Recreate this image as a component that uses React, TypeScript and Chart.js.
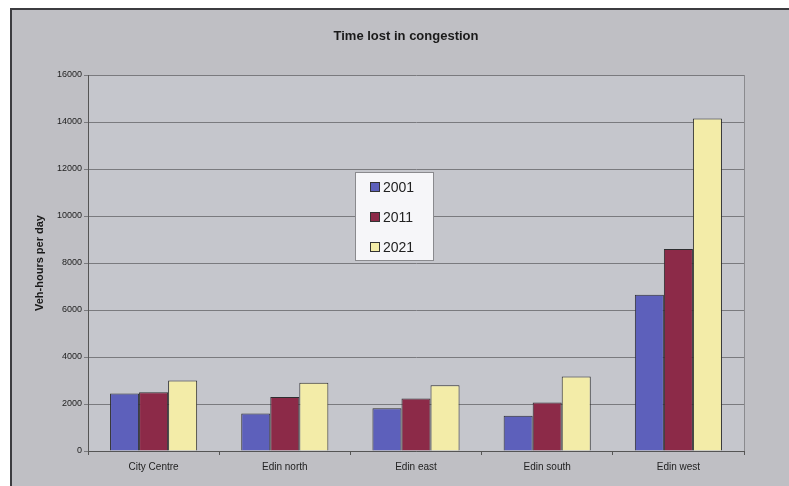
import React, { useEffect, useRef } from "react";
import { Chart, registerables } from "chart.js";

Chart.register(...registerables);

const categories = ["City Centre", "Edin north", "Edin east", "Edin south", "Edin west"];
const seriesLabels = ["2001", "2011", "2021"];
const values2001 = [2450, 1600, 1820, 1500, 6650];
const values2011 = [2500, 2300, 2230, 2060, 8600];
const values2021 = [3000, 2900, 2800, 3170, 14150];
const seriesColors = ["#5d60bb", "#8c2a48", "#f3eca8"];
const chartTitle = "Time lost in congestion";
const yTitle = "Veh-hours per day";
const FONT = "'Liberation Sans', Arial, sans-serif";

const framePlugin = {
  id: "frame",
  beforeDraw(chart: any) {
    const { ctx, width, height, chartArea } = chart;
    ctx.save();
    ctx.fillStyle = "#ffffff";
    ctx.fillRect(0, 0, width, height);
    ctx.fillStyle = "#bfbfc4";
    ctx.fillRect(11, 9, width, height);
    ctx.strokeStyle = "#3c3c40";
    ctx.lineWidth = 2;
    ctx.beginPath();
    ctx.moveTo(11, height + 2);
    ctx.lineTo(11, 9);
    ctx.lineTo(width + 2, 9);
    ctx.stroke();
    ctx.fillStyle = "#c5c6cc";
    ctx.fillRect(chartArea.left, chartArea.top, chartArea.right - chartArea.left, chartArea.bottom - chartArea.top);
    ctx.strokeStyle = "#8a8a8e";
    ctx.lineWidth = 1;
    ctx.beginPath();
    ctx.moveTo(chartArea.right + 0.5, chartArea.bottom);
    ctx.lineTo(chartArea.right + 0.5, chartArea.top);
    ctx.stroke();
    ctx.fillStyle = "#1a1a1a";
    ctx.font = `bold 13px ${FONT}`;
    ctx.textAlign = "center";
    ctx.textBaseline = "middle";
    ctx.fillText(chartTitle, 406, 36);
    ctx.restore();
  },
};

const floatLegendPlugin = {
  id: "floatLegend",
  afterDraw(chart: any) {
    const { ctx } = chart;
    const x = 355, y = 172, w = 78, h = 88;
    ctx.save();
    ctx.fillStyle = "#f6f6f9";
    ctx.fillRect(x, y, w, h);
    ctx.strokeStyle = "#8a8a8e";
    ctx.lineWidth = 1;
    ctx.strokeRect(x + 0.5, y + 0.5, w, h);
    ctx.font = `14px ${FONT}`;
    ctx.textBaseline = "middle";
    chart.data.datasets.forEach((ds: any, i: number) => {
      const cy = 187 + i * 30;
      ctx.fillStyle = ds.backgroundColor;
      ctx.fillRect(370, cy - 5, 10, 10);
      ctx.strokeStyle = "#333";
      ctx.strokeRect(370.5, cy - 4.5, 9, 9);
      ctx.fillStyle = "#222";
      ctx.fillText(ds.label, 383, cy + 1);
    });
    ctx.restore();
  },
};

export default function App() {
  const ref = useRef<HTMLCanvasElement>(null);
  useEffect(() => {
    if (!ref.current) return;
    const datasets = [values2001, values2011, values2021].map((v, i) => ({
      label: seriesLabels[i],
      data: v,
      backgroundColor: seriesColors[i],
      borderColor: "#2e2e30",
      borderWidth: 1,
      categoryPercentage: 0.664,
      barPercentage: 1,
    }));
    const chart = new Chart(ref.current, {
      type: "bar",
      data: { labels: categories, datasets },
      options: {
        animation: false,
        responsive: false,
        maintainAspectRatio: false,
        layout: { padding: { left: 0, right: 45, top: 75, bottom: 0 } },
        plugins: {
          legend: { display: false },
          tooltip: { enabled: false },
          title: { display: false },
        },
        scales: {
          x: {
            grid: { display: true, offset: true, drawOnChartArea: false, tickLength: 4, color: "#555" },
            border: { display: true, color: "#555" },
            ticks: { color: "#222", font: { family: FONT, size: 10 }, padding: 6, maxRotation: 0 },
            afterFit: (s: any) => { s.height = 35; },
          },
          y: {
            min: 0,
            max: 16000,
            ticks: {
              stepSize: 2000,
              color: "#222",
              font: { family: FONT, size: 9 },
              padding: 2,
              callback: (v: any) => String(v),
            },
            grid: { color: "#7a7a7e", tickLength: 4 },
            border: { display: true, color: "#555" },
            title: {
              display: true,
              text: yTitle,
              color: "#1a1a1a",
              font: { family: FONT, size: 11, weight: "bold" },
              padding: { top: 33, bottom: 0 },
            },
            afterFit: (s: any) => { s.width = 88; },
          },
        },
      },
      plugins: [framePlugin, floatLegendPlugin],
    } as any);
    return () => chart.destroy();
  }, []);
  return (
    <div style={{ position: "absolute", left: 0, top: 0, width: 789, height: 486 }}>
      <canvas ref={ref} width={789} height={486} style={{ width: 789, height: 486, display: "block" }} />
    </div>
  );
}
